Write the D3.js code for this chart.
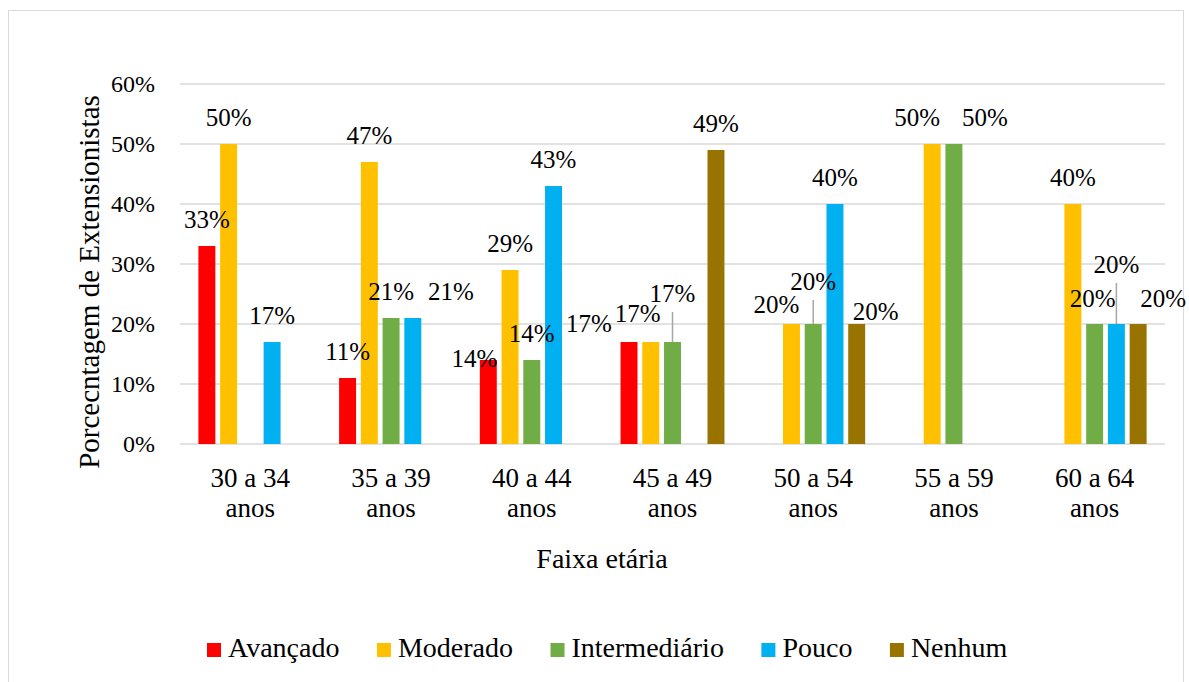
<!DOCTYPE html>
<html>
<head>
<meta charset="utf-8">
<script src="https://cdn.jsdelivr.net/npm/d3@7"></script>
<style>
    body { margin: 0; background: #fff; }
</style>
</head>
<body>
<div id="chart"></div>
<script>
// age groups (two lines each on the axis)
const categories = ["30 a 34 anos", "35 a 39 anos", "40 a 44 anos", "45 a 49 anos",
    "50 a 54 anos", "55 a 59 anos", "60 a 64 anos"];
const series = ["Avançado", "Moderado", "Intermediário", "Pouco", "Nenhum"];
const colors = ["#ff0000", "#ffc000", "#70ad47", "#00b0f0", "#997300"];

// percentages per series, one value per age group (null = no bar)
const avancado      = [33, 11, 14, 17, null, null, null];
const moderado      = [50, 47, 29, 17, 20, 50, 40];
const intermediario = [null, 21, 14, 17, 20, 50, 20];
const pouco         = [17, 21, 43, null, 40, null, 20];
const nenhum        = [null, null, null, 49, 20, null, 20];

const tickValues = [0, 10, 20, 30, 40, 50, 60];
const yTitle = "Porcecntagem de Extensionistas";
const xTitle = "Faixa etária";

// label tweaks copied from the manual placement in the original (group-series: [dx, dy, leader])
const labelMoves = {
    "1-3": [38, 0], "2-0": [-14, 25], "3-0": [-40, 8], "3-1": [-13, -2], "3-2": [0, -22, true],
    "4-1": [-15, 7], "4-2": [0, -16, true], "4-4": [19, 14], "5-1": [-15, 0], "5-2": [31, 0],
    "6-2": [-2, 1], "6-3": [0, -33, true], "6-4": [25, 1]
};

const values = [avancado, moderado, intermediario, pouco, nenhum];

const FONT = "'Liberation Serif', 'Times New Roman', 'DejaVu Serif', serif";
const width = 1189, height = 682;
const margin = { top: 84, left: 180, right: 24, bottom: 238 };

const svg = d3.select("#chart").append("svg")
    .attr("width", width)
    .attr("height", height)
    .attr("font-family", FONT)
    .style("font-family", FONT);

// outer frame
svg.append("rect")
    .attr("x", 8.5).attr("y", 10.5)
    .attr("width", 1175).attr("height", 690)
    .attr("fill", "none")
    .attr("stroke", "#d9d9d9");

const x0 = d3.scaleBand()
    .domain(categories)
    .range([margin.left, width - margin.right]);

const x1 = d3.scaleBand()
    .domain(series)
    .range([16, x0.bandwidth() - 16])
    .paddingInner(0.22)
    .paddingOuter(0.11);

const y = d3.scaleLinear()
    .domain([0, 60])
    .range([height - margin.bottom, margin.top]);

// gridlines
svg.append("g")
    .selectAll("line")
    .data(tickValues)
    .join("line")
    .attr("x1", margin.left)
    .attr("x2", width - margin.right)
    .attr("y1", d => y(d))
    .attr("y2", d => y(d))
    .attr("stroke", "#d9d9d9")
    .attr("stroke-width", 1.5);

// y tick labels
svg.append("g")
    .attr("font-size", 24)
    .selectAll("text")
    .data(tickValues)
    .join("text")
    .style("font-family", FONT)
    .attr("x", 155)
    .attr("y", d => y(d))
    .attr("dy", "0.35em")
    .attr("text-anchor", "end")
    .text(d => d + "%");

// flatten bars
const bars = [];
categories.forEach((c, gi) => {
    series.forEach((s, si) => {
        const v = values[si][gi];
        if (v != null) bars.push({ c, s, gi, si, v });
    });
});

svg.append("g")
    .selectAll("rect")
    .data(bars)
    .join("rect")
    .attr("x", d => x0(d.c) + x1(d.s))
    .attr("y", d => y(d.v))
    .attr("width", x1.bandwidth())
    .attr("height", d => y(0) - y(d.v))
    .attr("fill", d => colors[d.si]);

// data labels
const lab = svg.append("g").attr("font-size", 25);
bars.forEach(d => {
    const mv = labelMoves[d.gi + "-" + d.si] || [0, 0];
    const cx = x0(d.c) + x1(d.s) + x1.bandwidth() / 2;
    const top = y(d.v);
    const base = top - 18 + mv[1];
    if (mv[2]) {
        lab.append("line")
            .attr("x1", cx).attr("x2", cx)
            .attr("y1", base + 10).attr("y2", top)
            .attr("stroke", "#a6a6a6")
            .attr("stroke-width", 1.5);
    }
    lab.append("text")
        .style("font-family", FONT)
        .attr("x", cx + mv[0])
        .attr("y", base)
        .attr("text-anchor", "middle")
        .text(d.v + "%");
});

// category labels
const cat = svg.append("g").attr("font-size", 27)
    .selectAll("text")
    .data(categories)
    .join("text")
    .style("font-family", FONT)
    .attr("text-anchor", "middle")
    .attr("x", d => x0(d) + x0.bandwidth() / 2)
    .attr("y", 487);
cat.append("tspan")
    .attr("x", d => x0(d) + x0.bandwidth() / 2)
    .text(d => d.replace(" anos", ""));
cat.append("tspan")
    .attr("x", d => x0(d) + x0.bandwidth() / 2)
    .attr("dy", 30)
    .text("anos");

// axis titles
svg.append("text")
    .style("font-family", FONT)
    .attr("font-size", 28)
    .attr("text-anchor", "middle")
    .attr("x", 602)
    .attr("y", 568)
    .text(xTitle);

svg.append("text")
    .style("font-family", FONT)
    .attr("font-size", 29)
    .attr("text-anchor", "middle")
    .attr("transform", "translate(99,282) rotate(-90)")
    .text(yTitle);

// legend
const legend = svg.append("g").attr("font-size", 28);
let lx = 207;
series.forEach((s, i) => {
    legend.append("rect")
        .attr("x", lx).attr("y", 643)
        .attr("width", 14).attr("height", 14)
        .attr("fill", colors[i]);
    const t = legend.append("text")
        .style("font-family", FONT)
        .attr("x", lx + 21)
        .attr("y", 657)
        .text(s);
    lx += 21 + t.node().getComputedTextLength() + 37.5;
});
</script>
</body>
</html>
